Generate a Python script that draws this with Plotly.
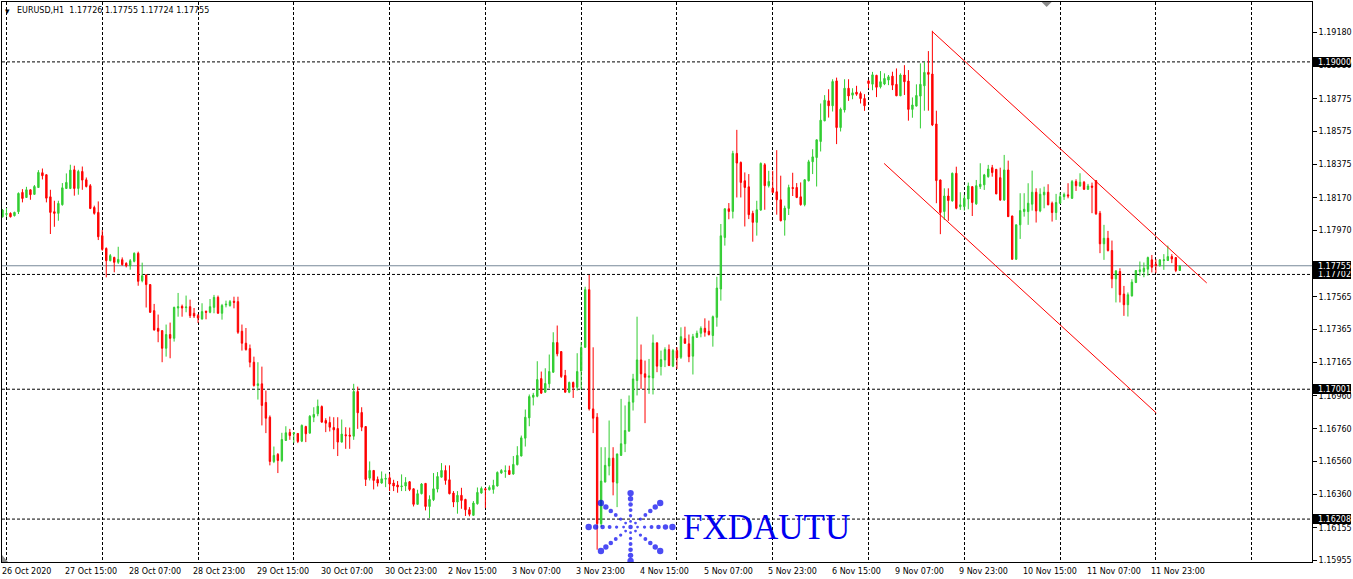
import math
import plotly.graph_objects as go

# ---------------- data (EURUSD H1, bar index 0 = 26 Oct 2020 23:00) ----------------
opens = [
    1.18054,1.18069,1.18075,1.18061,1.18085,1.18203,1.18172,1.18219,1.18191,1.18233,
    1.18323,1.18311,1.18176,1.18085,1.18075,1.18128,1.18227,1.18227,1.18341,1.18227,
    1.18331,1.18280,1.18244,1.18111,1.18081,1.17939,1.17861,1.17786,1.17806,1.17776,
    1.17792,1.17770,1.17755,1.17782,1.17831,1.17664,1.17699,1.17640,1.17481,1.17373,
    1.17359,1.17251,1.17335,1.17312,1.17497,1.17507,1.17499,1.17505,1.17465,1.17452,
    1.17430,1.17477,1.17471,1.17501,1.17562,1.17465,1.17516,1.17512,1.17538,1.17536,
    1.17355,1.17282,1.17249,1.17166,1.17024,1.17034,1.16920,1.16830,1.16560,1.16603,
    1.16566,1.16688,1.16737,1.16729,1.16731,1.16684,1.16773,1.16733,1.16830,1.16851,
    1.16895,1.16810,1.16798,1.16767,1.16761,1.16678,1.16723,1.16721,1.16714,1.16987,
    1.16859,1.16773,1.16458,1.16505,1.16450,1.16428,1.16452,1.16460,1.16428,1.16416,
    1.16406,1.16410,1.16436,1.16393,1.16298,1.16363,1.16426,1.16285,1.16326,1.16391,
    1.16464,1.16505,1.16448,1.16367,1.16312,1.16353,1.16328,1.16265,1.16231,1.16302,
    1.16367,1.16393,1.16387,1.16389,1.16410,1.16489,1.16499,1.16505,1.16483,1.16540,
    1.16593,1.16702,1.16826,1.16952,1.16958,1.17066,1.16983,1.17034,1.17105,1.17286,
    1.17231,1.17085,1.16983,1.17042,1.17013,1.17113,1.17257,1.17609,1.16881,1.16830,
    1.16180,1.16434,1.16532,1.16580,1.16428,1.16597,1.16668,1.16745,1.16922,1.17054,
    1.17180,1.17095,1.17074,1.17070,1.17284,1.17140,1.17180,1.17243,1.17142,1.17237,
    1.17196,1.17310,1.17278,1.17203,1.17318,1.17343,1.17373,1.17355,1.17329,1.17440,
    1.17613,1.17928,1.18103,1.18087,1.18441,1.18386,1.18274,1.18237,1.18075,1.18020,
    1.18095,1.18372,1.18244,1.18229,1.18207,1.18158,1.18034,1.18105,1.18233,1.18233,
    1.18176,1.18128,1.18274,1.18390,1.18416,1.18514,1.18640,1.18762,1.18732,1.18884,
    1.18599,1.18707,1.18839,1.18797,1.18815,1.18807,1.18776,1.18884,1.18864,1.18918,
    1.18848,1.18865,1.18889,1.18913,1.18863,1.18793,1.18920,1.18883,1.18710,1.18730,
    1.18791,1.18854,1.18936,1.18926,1.18621,1.18279,1.18086,1.18181,1.18151,1.18320,
    1.18116,1.18116,1.18163,1.18238,1.18133,1.18238,1.18249,1.18299,1.18354,1.18344,
    1.18293,1.18157,1.18340,1.18059,1.17795,1.18005,1.18086,1.18086,1.18131,1.18204,
    1.18090,1.18188,1.18204,1.18137,1.18080,1.18137,1.18177,1.18188,1.18167,1.18269,
    1.18242,1.18265,1.18222,1.18242,1.18275,1.18076,1.17889,1.17923,1.17848,1.17675,
    1.17720,1.17582,1.17517,1.17571,1.17653,1.17720,1.17720,1.17734,1.17791,1.17765,
    1.17755,1.17787,1.17787,1.17811,1.17805,1.17726,
]
highs = [
    1.18101,1.18107,1.18081,1.18085,1.18203,1.18223,1.18237,1.18221,1.18248,1.18339,
    1.18349,1.18313,1.18219,1.18152,1.18152,1.18260,1.18319,1.18372,1.18366,1.18341,
    1.18361,1.18294,1.18254,1.18122,1.18148,1.17973,1.17867,1.17827,1.17810,1.17871,
    1.17806,1.17776,1.17796,1.17837,1.17841,1.17774,1.17701,1.17642,1.17522,1.17457,
    1.17359,1.17396,1.17408,1.17505,1.17589,1.17518,1.17573,1.17548,1.17497,1.17461,
    1.17526,1.17481,1.17552,1.17577,1.17573,1.17522,1.17542,1.17546,1.17566,1.17566,
    1.17396,1.17375,1.17274,1.17200,1.17166,1.17139,1.16993,1.16841,1.16651,1.16611,
    1.16735,1.16775,1.16759,1.16739,1.16733,1.16786,1.16778,1.16843,1.16891,1.16938,
    1.16902,1.16824,1.16834,1.16830,1.16830,1.16816,1.16769,1.16767,1.17034,1.17017,
    1.16891,1.16775,1.16560,1.16507,1.16468,1.16499,1.16485,1.16485,1.16448,1.16440,
    1.16481,1.16464,1.16440,1.16395,1.16387,1.16428,1.16428,1.16353,1.16489,1.16495,
    1.16550,1.16536,1.16536,1.16379,1.16379,1.16399,1.16332,1.16281,1.16318,1.16401,
    1.16407,1.16399,1.16414,1.16448,1.16499,1.16513,1.16536,1.16534,1.16593,1.16653,
    1.16718,1.16877,1.16969,1.16979,1.17172,1.17109,1.17129,1.17213,1.17349,1.17390,
    1.17233,1.17119,1.17048,1.17048,1.17221,1.17288,1.17627,1.17699,1.17257,1.16855,
    1.16647,1.16647,1.16810,1.16647,1.16609,1.16942,1.16902,1.16963,1.17095,1.17444,
    1.17274,1.17176,1.17186,1.17335,1.17288,1.17237,1.17257,1.17274,1.17247,1.17257,
    1.17379,1.17383,1.17335,1.17339,1.17359,1.17385,1.17434,1.17420,1.17451,1.17688,
    1.18010,1.18105,1.18138,1.18457,1.18585,1.18392,1.18325,1.18315,1.18091,1.18152,
    1.18386,1.18382,1.18335,1.18335,1.18461,1.18305,1.18122,1.18250,1.18323,1.18260,
    1.18264,1.18284,1.18402,1.18467,1.18526,1.18746,1.18797,1.18833,1.18894,1.18904,
    1.18721,1.18894,1.18894,1.18839,1.18854,1.18819,1.18803,1.18890,1.18939,1.18921,
    1.18944,1.18930,1.18920,1.18940,1.18960,1.18930,1.18980,1.18950,1.18783,1.18863,
    1.18991,1.19001,1.19066,1.19190,1.18702,1.18281,1.18228,1.18228,1.18324,1.18360,
    1.18204,1.18188,1.18263,1.18242,1.18279,1.18381,1.18316,1.18371,1.18371,1.18346,
    1.18354,1.18432,1.18397,1.18061,1.18007,1.18198,1.18198,1.18259,1.18336,1.18228,
    1.18228,1.18238,1.18253,1.18147,1.18194,1.18202,1.18202,1.18259,1.18279,1.18283,
    1.18320,1.18273,1.18255,1.18263,1.18277,1.18090,1.18005,1.17968,1.17909,1.17726,
    1.17740,1.17632,1.17592,1.17673,1.17728,1.17781,1.17775,1.17811,1.17821,1.17795,
    1.17795,1.17826,1.17878,1.17826,1.17807,1.17755,
]
lows = [
    1.18050,1.18054,1.18050,1.18056,1.18071,1.18142,1.18170,1.18158,1.18189,1.18231,
    1.18282,1.18142,1.17949,1.17993,1.18030,1.18122,1.18225,1.18223,1.18183,1.18189,
    1.18219,1.18233,1.18101,1.18067,1.17912,1.17847,1.17684,1.17782,1.17715,1.17766,
    1.17755,1.17745,1.17731,1.17776,1.17633,1.17654,1.17500,1.17467,1.17359,1.17288,
    1.17166,1.17200,1.17190,1.17292,1.17444,1.17444,1.17471,1.17436,1.17436,1.17406,
    1.17426,1.17428,1.17465,1.17465,1.17463,1.17426,1.17501,1.17505,1.17495,1.17339,
    1.17237,1.17237,1.17135,1.17017,1.16938,1.16780,1.16733,1.16536,1.16550,1.16489,
    1.16556,1.16686,1.16692,1.16672,1.16672,1.16678,1.16678,1.16729,1.16800,1.16836,
    1.16798,1.16739,1.16743,1.16635,1.16593,1.16676,1.16637,1.16637,1.16692,1.16759,
    1.16745,1.16410,1.16444,1.16389,1.16407,1.16424,1.16403,1.16379,1.16379,1.16369,
    1.16379,1.16379,1.16379,1.16285,1.16296,1.16359,1.16261,1.16214,1.16318,1.16371,
    1.16462,1.16418,1.16359,1.16281,1.16241,1.16271,1.16227,1.16225,1.16227,1.16296,
    1.16363,1.16275,1.16383,1.16363,1.16407,1.16485,1.16460,1.16479,1.16479,1.16536,
    1.16591,1.16651,1.16775,1.16902,1.16952,1.16973,1.16979,1.17009,1.17101,1.17202,
    1.17070,1.16981,1.16977,1.16948,1.16993,1.17000,1.17254,1.16871,1.16733,1.16021,
    1.16159,1.16432,1.16475,1.16353,1.16281,1.16595,1.16617,1.16743,1.16871,1.16963,
    1.17003,1.16794,1.16973,1.16969,1.17105,1.17085,1.17136,1.17142,1.17136,1.17125,
    1.17186,1.17278,1.17166,1.17091,1.17314,1.17318,1.17322,1.17329,1.17261,1.17383,
    1.17542,1.17878,1.18039,1.18044,1.18172,1.18172,1.17995,1.18040,1.17902,1.17939,
    1.18091,1.18097,1.18233,1.18197,1.18067,1.18026,1.17939,1.18065,1.18181,1.18168,
    1.18122,1.18118,1.18270,1.18315,1.18239,1.18453,1.18638,1.18660,1.18697,1.18498,
    1.18575,1.18691,1.18762,1.18772,1.18793,1.18746,1.18701,1.18839,1.18827,1.18785,
    1.18838,1.18858,1.18858,1.18828,1.18791,1.18791,1.18798,1.18641,1.18659,1.18728,
    1.18594,1.18702,1.18702,1.18608,1.18137,1.17948,1.18035,1.18029,1.18147,1.18100,
    1.18096,1.18092,1.18100,1.18059,1.18127,1.18224,1.18218,1.18293,1.18299,1.18192,
    1.18151,1.18151,1.18053,1.17791,1.17791,1.17919,1.18055,1.18005,1.18092,1.18019,
    1.18082,1.18106,1.18125,1.18025,1.18035,1.18133,1.18157,1.18167,1.18163,1.18212,
    1.18238,1.18218,1.18218,1.18076,1.18066,1.17832,1.17791,1.17842,1.17618,1.17531,
    1.17531,1.17449,1.17445,1.17567,1.17649,1.17693,1.17685,1.17695,1.17714,1.17710,
    1.17750,1.17730,1.17785,1.17771,1.17716,1.17724,
]
closes = [
    1.18095,1.18073,1.18054,1.18081,1.18197,1.18166,1.18219,1.18189,1.18239,1.18325,
    1.18305,1.18168,1.18081,1.18075,1.18136,1.18231,1.18264,1.18339,1.18227,1.18331,
    1.18278,1.18239,1.18105,1.18075,1.17932,1.17855,1.17786,1.17817,1.17776,1.17794,
    1.17762,1.17755,1.17786,1.17831,1.17660,1.17694,1.17640,1.17471,1.17363,1.17355,
    1.17251,1.17335,1.17312,1.17501,1.17505,1.17497,1.17503,1.17450,1.17448,1.17436,
    1.17475,1.17471,1.17505,1.17562,1.17465,1.17512,1.17520,1.17536,1.17532,1.17349,
    1.17282,1.17243,1.17166,1.17024,1.17034,1.16902,1.16824,1.16560,1.16597,1.16566,
    1.16694,1.16735,1.16718,1.16735,1.16682,1.16780,1.16729,1.16836,1.16847,1.16897,
    1.16800,1.16794,1.16769,1.16753,1.16678,1.16727,1.16717,1.16714,1.16987,1.16857,
    1.16769,1.16450,1.16505,1.16444,1.16428,1.16454,1.16456,1.16422,1.16410,1.16404,
    1.16410,1.16432,1.16389,1.16298,1.16363,1.16422,1.16285,1.16328,1.16393,1.16468,
    1.16505,1.16444,1.16363,1.16312,1.16353,1.16322,1.16265,1.16237,1.16306,1.16371,
    1.16395,1.16387,1.16401,1.16414,1.16493,1.16505,1.16503,1.16481,1.16542,1.16597,
    1.16704,1.16830,1.16956,1.16965,1.17060,1.16977,1.17036,1.17109,1.17286,1.17217,
    1.17078,1.16983,1.17042,1.17013,1.17109,1.17255,1.17609,1.16881,1.16824,1.16180,
    1.16440,1.16536,1.16580,1.16434,1.16605,1.16668,1.16749,1.16922,1.17064,1.17180,
    1.17095,1.17074,1.17082,1.17284,1.17142,1.17182,1.17243,1.17146,1.17237,1.17192,
    1.17322,1.17282,1.17200,1.17322,1.17343,1.17373,1.17349,1.17335,1.17444,1.17619,
    1.17938,1.18103,1.18087,1.18441,1.18382,1.18264,1.18233,1.18067,1.18020,1.18097,
    1.18380,1.18244,1.18270,1.18203,1.18158,1.18030,1.18107,1.18233,1.18227,1.18172,
    1.18128,1.18280,1.18390,1.18420,1.18524,1.18644,1.18766,1.18732,1.18880,1.18599,
    1.18711,1.18839,1.18792,1.18811,1.18803,1.18776,1.18732,1.18868,1.18921,1.18845,
    1.18879,1.18899,1.18909,1.18858,1.18793,1.18920,1.18879,1.18710,1.18737,1.18795,
    1.18863,1.18936,1.18924,1.18615,1.18275,1.18080,1.18181,1.18153,1.18320,1.18106,
    1.18127,1.18167,1.18242,1.18141,1.18244,1.18253,1.18310,1.18346,1.18324,1.18194,
    1.18157,1.18340,1.18055,1.17795,1.18005,1.18092,1.18100,1.18137,1.18204,1.18090,
    1.18192,1.18204,1.18127,1.18080,1.18141,1.18177,1.18190,1.18181,1.18269,1.18244,
    1.18265,1.18222,1.18242,1.18234,1.18072,1.17889,1.17923,1.17848,1.17675,1.17724,
    1.17578,1.17517,1.17578,1.17655,1.17726,1.17730,1.17740,1.17805,1.17746,1.17757,
    1.17791,1.17791,1.17811,1.17797,1.17726,1.17755,
]
bars = list(range(len(opens)))

time_label_bars = [0, 16, 32, 48, 64, 80, 96, 112, 128, 144, 160, 176, 192, 208,
                   224, 240, 256, 272, 288]
time_labels = ["26 Oct 2020", "27 Oct 15:00", "28 Oct 07:00", "28 Oct 23:00",
               "29 Oct 15:00", "30 Oct 07:00", "30 Oct 23:00", "2 Nov 15:00",
               "3 Nov 07:00", "3 Nov 23:00", "4 Nov 15:00", "5 Nov 07:00",
               "5 Nov 23:00", "6 Nov 15:00", "9 Nov 07:00", "9 Nov 23:00",
               "10 Nov 15:00", "11 Nov 07:00", "11 Nov 23:00"]
grid_bars = list(range(1, 329, 24))

price_ticks = [1.19180, 1.18980, 1.18775, 1.18575, 1.18375, 1.18170, 1.17970,
               1.17565, 1.17365, 1.17165, 1.16960, 1.16760, 1.16560, 1.16360,
               1.16155, 1.15955]
price_tick_text = ["1.19180", "1.18980", "1.18775", "1.18575", "1.18375", "1.18170",
                   "1.17970", "1.17565", "1.17365", "1.17165", "1.16960", "1.16760",
                   "1.16560", "1.16360", "1.16155", "1.15955"]

hline_prices = [1.19000, 1.17702, 1.17001, 1.16208]
bid_price = 1.17755
header = "EURUSD,H1&nbsp;&nbsp;1.17726 1.17755 1.17724 1.17755"

channel_upper_x = [233.0, 301.75]
channel_upper_y = [1.19185, 1.17650]
channel_lower_x = [220.9, 289.1]
channel_lower_y = [1.18380, 1.16856]

x_range = [-0.125, 328.125]
y_range = [1.159459, 1.193658]

FONT = "DejaVu Sans"
GREEN = "#32CD32"
RED = "#FF0000"
LOGO_BLUE = "#0000F0"

fig = go.Figure()

fig.add_trace(go.Candlestick(
    x=bars, open=opens, high=highs, low=lows, close=closes,
    increasing=dict(line=dict(color=GREEN, width=1), fillcolor=GREEN),
    decreasing=dict(line=dict(color=RED, width=1), fillcolor=RED),
    whiskerwidth=0, hoverinfo="skip", showlegend=False,
))

for cx, cy in ((channel_upper_x, channel_upper_y), (channel_lower_x, channel_lower_y)):
    fig.add_trace(go.Scatter(x=cx, y=cy, mode="lines", line=dict(color=RED, width=1),
                             hoverinfo="skip", showlegend=False))

# ---------------- watermark logo (overlay axes in pixel units) ----------------
logo_cx, logo_cy, logo_rx, logo_ry = 631, 527, 42, 34
dot_fracs = [1.0, 5 / 6, 4 / 6, 3 / 6, 2 / 6, 1 / 6]
dot_sizes = [6.4, 5.4, 4.6, 3.9, 3.3, 2.8]
lx, ly, ls = [logo_cx], [logo_cy], [4.6]
for k in range(8):
    a = k * math.pi / 4
    for f, s in zip(dot_fracs, dot_sizes):
        lx.append(logo_cx + logo_rx * f * math.cos(a))
        ly.append(logo_cy - logo_ry * f * math.sin(a))
        ls.append(s)
fig.add_trace(go.Scatter(x=lx, y=ly, mode="markers", xaxis="x2", yaxis="y2",
                         marker=dict(color=LOGO_BLUE, size=ls, line=dict(width=0)),
                         hoverinfo="skip", showlegend=False))

annotations = []
annotations.append(dict(x=682, y=527, xref="x2", yref="y2", xanchor="left", yanchor="middle",
                        text="FXDAUTU", showarrow=False,
                        font=dict(family="Liberation Serif", size=35, color=LOGO_BLUE)))

for b, t in zip(time_label_bars, time_labels):
    annotations.append(dict(x=b, y=0, xref="x", yref="paper", xanchor="left", yanchor="top",
                            xshift=-3, yshift=-3, text=t, showarrow=False,
                            font=dict(family=FONT, size=8, color="black")))

# header
annotations.append(dict(x=0, y=1, xref="paper", yref="paper", xanchor="left", yanchor="top",
                        xshift=13, yshift=-2, text=header, showarrow=False,
                        font=dict(family=FONT, size=8, color="black")))
annotations.append(dict(x=0, y=1, xref="paper", yref="paper", xanchor="left", yanchor="top",
                        xshift=1, yshift=-2, text="▾", showarrow=False,
                        font=dict(family=FONT, size=9, color="black")))

# highlighted price boxes on the right axis
for p in hline_prices + [bid_price]:
    annotations.append(dict(x=1, y=p, xref="paper", yref="y", xanchor="left", yanchor="middle",
                            xshift=1, text=f"{p:.5f}", showarrow=False, bgcolor="black",
                            borderpad=0, borderwidth=0, width=38, height=10, align="right",
                            font=dict(family=FONT, size=8, color="white")))

shapes = []
for p in hline_prices:
    shapes.append(dict(type="line", xref="paper", x0=0, x1=1, yref="y", y0=p, y1=p,
                       line=dict(color="black", width=1, dash="3px,2px"), layer="below"))
shapes.append(dict(type="line", xref="paper", x0=0, x1=1, yref="y", y0=bid_price, y1=bid_price,
                   line=dict(color="#778899", width=1), layer="below"))
# small gray markers (chart shift / scroll)
shapes.append(dict(type="path", xref="x2", yref="y2", path="M 1043,1 L 1053,1 L 1048,6 Z",
                   fillcolor="#8c8c8c", line=dict(width=0)))
shapes.append(dict(type="path", xref="x2", yref="y2", path="M 1,555 L 1,562 L 7,562 Z",
                   fillcolor="#8c8c8c", line=dict(width=0)))

fig.update_layout(
    width=1353, height=579,
    margin=dict(l=1, r=39, t=1, b=17),
    paper_bgcolor="white", plot_bgcolor="white",
    boxgap=0.5,
    showlegend=False,
    hovermode=False,
    font=dict(family=FONT, size=8, color="black"),
    xaxis=dict(range=x_range, rangeslider=dict(visible=False), tickvals=grid_bars,
               showticklabels=False, ticks="", showgrid=True, gridcolor="black",
               gridwidth=1, griddash="3px,2px", zeroline=False, showline=True,
               linecolor="black", linewidth=1, mirror=True, fixedrange=True),
    yaxis=dict(range=y_range, side="right", tickvals=price_ticks, ticktext=price_tick_text,
               ticks="outside", ticklen=4, tickcolor="black", showgrid=False, zeroline=False,
               showline=True, linecolor="black", linewidth=1, mirror=True,
               tickfont=dict(family=FONT, size=8, color="black"), fixedrange=True),
    xaxis2=dict(overlaying="x", range=[1, 1314], visible=False, fixedrange=True),
    yaxis2=dict(overlaying="y", range=[562, 1], visible=False, fixedrange=True),
    annotations=annotations,
    shapes=shapes,
)

fig.write_html("out.html", config={"displayModeBar": False},
               post_script="document.body.style.margin='0';document.body.style.overflow='hidden';")
